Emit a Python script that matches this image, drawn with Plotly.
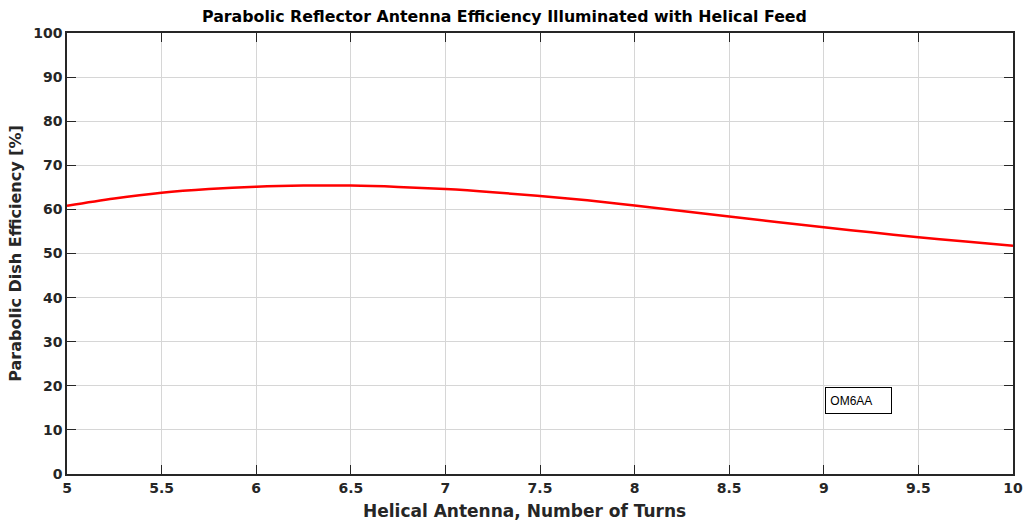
import plotly.graph_objects as go

turns = [5.0, 5.25, 5.5, 5.75, 6.0, 6.25, 6.5, 6.75, 7.0, 7.25, 7.5,
         7.75, 8.0, 8.25, 8.5, 8.75, 9.0, 9.25, 9.5, 9.75, 10.0]
efficiency = [60.8, 62.45, 63.75, 64.6, 65.15, 65.4, 65.4, 65.1, 64.6, 63.9, 63.05,
              62.05, 60.9, 59.65, 58.4, 57.15, 55.95, 54.8, 53.7, 52.7, 51.75]

x_ticks = [5, 5.5, 6, 6.5, 7, 7.5, 8, 8.5, 9, 9.5, 10]
x_ticktext = ["5", "5.5", "6", "6.5", "7", "7.5", "8", "8.5", "9", "9.5", "10"]
y_ticks = list(range(0, 101, 10))

title_text = "Parabolic Reflector Antenna Efficiency Illuminated with Helical Feed"
x_title = "Helical Antenna, Number of Turns"
y_title = "Parabolic Dish Efficiency [%]"
label_text = "OM6AA"

FONT = "DejaVu Sans"

fig = go.Figure()
fig.add_trace(go.Scatter(x=turns, y=efficiency, mode="lines",
                         line=dict(color="#ff0000", width=2.5, shape="spline", smoothing=1.0),
                         showlegend=False, hoverinfo="skip"))

axis_common = dict(
    showline=True, linecolor="#262626", linewidth=1.5, mirror="ticks",
    ticks="inside", ticklen=9, tickwidth=1.2, tickcolor="#262626",
    showgrid=True, gridcolor="#d6d6d6", gridwidth=1, zeroline=False,
    automargin=False,
    tickfont=dict(family=FONT, size=14, color="#262626", weight="bold"),
)

fig.update_xaxes(range=[5, 10], tickvals=x_ticks, ticktext=x_ticktext, **axis_common)
fig.update_yaxes(range=[0, 100], tickvals=y_ticks,
                 title=dict(text=y_title, font=dict(family=FONT, size=16, color="#262626", weight="bold"), standoff=8),
                 **axis_common)

# figure title
fig.add_annotation(text="<b>" + title_text + "</b>", xref="paper", yref="paper",
                   x=0.462, y=1.0, xanchor="center", yanchor="bottom", yshift=5,
                   showarrow=False, font=dict(family=FONT, size=15.8, color="#000000"))

# x-axis title (placed slightly left of axis centre, as in the original)
fig.add_annotation(text="<b>" + x_title + "</b>", xref="paper", yref="paper",
                   x=0.484, y=0.0, xanchor="center", yanchor="top", yshift=-26,
                   borderpad=0,
                   showarrow=False, font=dict(family=FONT, size=17, color="#262626"))

fig.add_annotation(text="&nbsp;" + label_text, x=9.006, y=16.67, xref="x", yref="y",
                   xanchor="left", yanchor="middle", showarrow=False,
                   align="left", width=63, height=23, borderpad=1,
                   bordercolor="#000000", borderwidth=1, bgcolor="#ffffff",
                   font=dict(family="Liberation Sans", size=12, color="#000000"))

fig.update_layout(
    width=1025, height=522,
    margin=dict(l=67, r=12, t=33, b=48),
    paper_bgcolor="#ffffff", plot_bgcolor="#ffffff",
)

fig.write_html("out.html")
